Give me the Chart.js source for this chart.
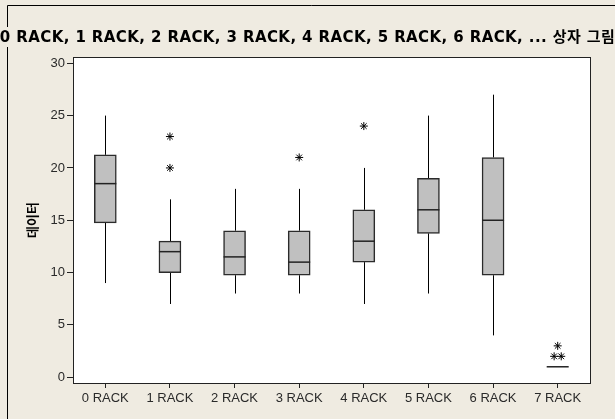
<!DOCTYPE html>
<html>
<head>
<meta charset="utf-8">
<script src="https://cdn.jsdelivr.net/npm/chart.js@4.4.1/dist/chart.umd.min.js"></script>
<style>
  html, body { margin: 0; padding: 0; background: #EFEBE1; }
  #wrap { width: 615px; height: 419px; }
</style>
</head>
<body>
<div id="wrap"><canvas id="c" width="615" height="419"></canvas></div>
<script>
// Box plot of the data per rack count
const chartTitle = '0 RACK, 1 RACK, 2 RACK, 3 RACK, 4 RACK, 5 RACK, 6 RACK, ... 상자 그림';
const yTitle = '데이터';
const categories = ['0 RACK', '1 RACK', '2 RACK', '3 RACK', '4 RACK', '5 RACK', '6 RACK', '7 RACK'];
const whiskerLow  = [9,     7,  8,    8,    7,  8,     4,    1];
const quartile1   = [14.75, 10, 9.75, 9.75, 11, 13.75, 9.75, 1];
const medians     = [18.5,  12, 11.5, 11,   13, 16,    15,   1];
const quartile3   = [21.25, 13, 14,   14,   16, 19,    21,   1];
const whiskerHigh = [25,    17, 18,   18,   20, 25,    27,   1];
// outliers: category index and value
const outlierCat = [1,  1,  3,  4,  7, 7, 7];
const outlierVal = [20, 23, 21, 24, 2, 2, 3];
const yTicks = [0, 5, 10, 15, 20, 25, 30];

// spread identical outliers side by side
const outlierPoints = (() => {
  const groups = {};
  outlierCat.forEach((c, i) => {
    const k = c + ':' + outlierVal[i];
    (groups[k] = groups[k] || []).push(i);
  });
  const pts = [];
  Object.values(groups).forEach(idx => {
    const n = idx.length;
    idx.forEach((i, j) => {
      pts.push({ x: outlierCat[i] + (j - (n - 1) / 2) * 0.11, y: outlierVal[i] });
    });
  });
  return pts;
})();

const BG = '#EFEBE1';

const boxExtras = {
  id: 'boxExtras',
  beforeDraw(chart) {
    const { ctx, chartArea: a } = chart;
    ctx.save();
    ctx.fillStyle = BG;
    ctx.fillRect(0, 0, chart.width, chart.height);
    // outer frame
    ctx.strokeStyle = '#000';
    ctx.lineWidth = 1;
    ctx.beginPath();
    ctx.moveTo(7.5, chart.height);
    ctx.lineTo(7.5, 5.5);
    ctx.lineTo(chart.width, 5.5);
    ctx.stroke();
    ctx.fillStyle = '#fff';
    ctx.fillRect(a.left, a.top, a.right - a.left, a.bottom - a.top);
    ctx.restore();
  },
  beforeDatasetsDraw(chart) {
    const { ctx } = chart;
    const xs = chart.scales.x, ys = chart.scales.y;
    ctx.save();
    ctx.strokeStyle = '#000';
    ctx.lineWidth = 1;
    categories.forEach((c, i) => {
      const x = Math.round(xs.getPixelForValue(i)) + 0.5;
      ctx.beginPath();
      ctx.moveTo(x, ys.getPixelForValue(whiskerLow[i]));
      ctx.lineTo(x, ys.getPixelForValue(quartile1[i]));
      ctx.moveTo(x, ys.getPixelForValue(quartile3[i]));
      ctx.lineTo(x, ys.getPixelForValue(whiskerHigh[i]));
      ctx.stroke();
    });
    ctx.restore();
  },
  afterDatasetsDraw(chart) {
    const { ctx, chartArea: a } = chart;
    const xs = chart.scales.x, ys = chart.scales.y;
    ctx.save();
    ctx.strokeStyle = '#222';
    ctx.lineWidth = 1.5;
    categories.forEach((c, i) => {
      const x = xs.getPixelForValue(i);
      const y = ys.getPixelForValue(medians[i]);
      ctx.beginPath();
      ctx.moveTo(x - 11, y);
      ctx.lineTo(x + 11, y);
      ctx.stroke();
    });
    // plot frame
    ctx.strokeStyle = '#222';
    ctx.lineWidth = 1;
    ctx.strokeRect(Math.round(a.left) + 0.5, Math.round(a.top) + 0.5,
      Math.round(a.right - a.left), Math.round(a.bottom - a.top));
    ctx.restore();
  },
  afterDraw(chart) {
    const { ctx } = chart;
    ctx.save();
    ctx.font = 'bold 15px "DejaVu Sans", "Noto Sans CJK KR", sans-serif';
    ctx.letterSpacing = '0.4px';
    const w = ctx.measureText(chartTitle).width;
    const cx = chart.width / 2;
    ctx.fillStyle = BG;
    ctx.fillRect(cx - w / 2 - 1, 27, w + 2, 20);
    ctx.fillStyle = '#000';
    ctx.textAlign = 'center';
    ctx.textBaseline = 'alphabetic';
    ctx.fillText(chartTitle, cx, 42);
    ctx.restore();
  }
};

new Chart(document.getElementById('c'), {
  type: 'bar',
  data: {
    datasets: [
      {
        label: 'box',
        data: categories.map((c, i) => ({ x: i, y: [quartile1[i], quartile3[i]] })),
        backgroundColor: '#C0C0C0',
        borderColor: '#2b2b2b',
        borderWidth: 1.5,
        borderSkipped: false,
        barThickness: 22,
        grouped: false
      },
      {
        type: 'scatter',
        label: 'outliers',
        data: outlierPoints,
        pointStyle: 'star',
        radius: 4,
        borderColor: '#000',
        backgroundColor: '#000',
        borderWidth: 1
      }
    ]
  },
  options: {
    responsive: false,
    animation: false,
    devicePixelRatio: 1,
    layout: { padding: { top: 57, right: 25, left: 0, bottom: 0 } },
    plugins: {
      legend: { display: false },
      tooltip: { enabled: false },
      title: { display: false }
    },
    scales: {
      x: {
        type: 'linear',
        min: -0.5,
        max: 7.5,
        offset: false,
        afterBuildTicks: s => { s.ticks = categories.map((c, i) => ({ value: i })); },
        afterFit: s => { s.height = 36; },
        grid: { drawOnChartArea: false, drawTicks: true, tickLength: 5, color: '#222', offset: false },
        border: { display: false },
        ticks: {
          callback: v => categories[v],
          autoSkip: false,
          maxRotation: 0,
          padding: 3,
          color: '#2a2a2a',
          font: { family: '"Liberation Sans", Arial, sans-serif', size: 13 }
        }
      },
      y: {
        type: 'linear',
        min: -0.55,
        max: 30.6,
        afterBuildTicks: s => { s.ticks = yTicks.map(v => ({ value: v })); },
        afterFit: s => { s.width = 73; },
        grid: { drawOnChartArea: false, drawTicks: true, tickLength: 6, color: '#222' },
        border: { display: false },
        ticks: {
          padding: 2,
          color: '#2a2a2a',
          font: { family: '"Liberation Sans", Arial, sans-serif', size: 13 }
        },
        title: {
          display: true,
          text: yTitle,
          color: '#000',
          font: { family: '"Noto Sans CJK KR", sans-serif', size: 13, weight: 'bold' },
          padding: { top: 24, bottom: 0 }
        }
      }
    }
  },
  plugins: [boxExtras]
});
</script>
</body>
</html>
